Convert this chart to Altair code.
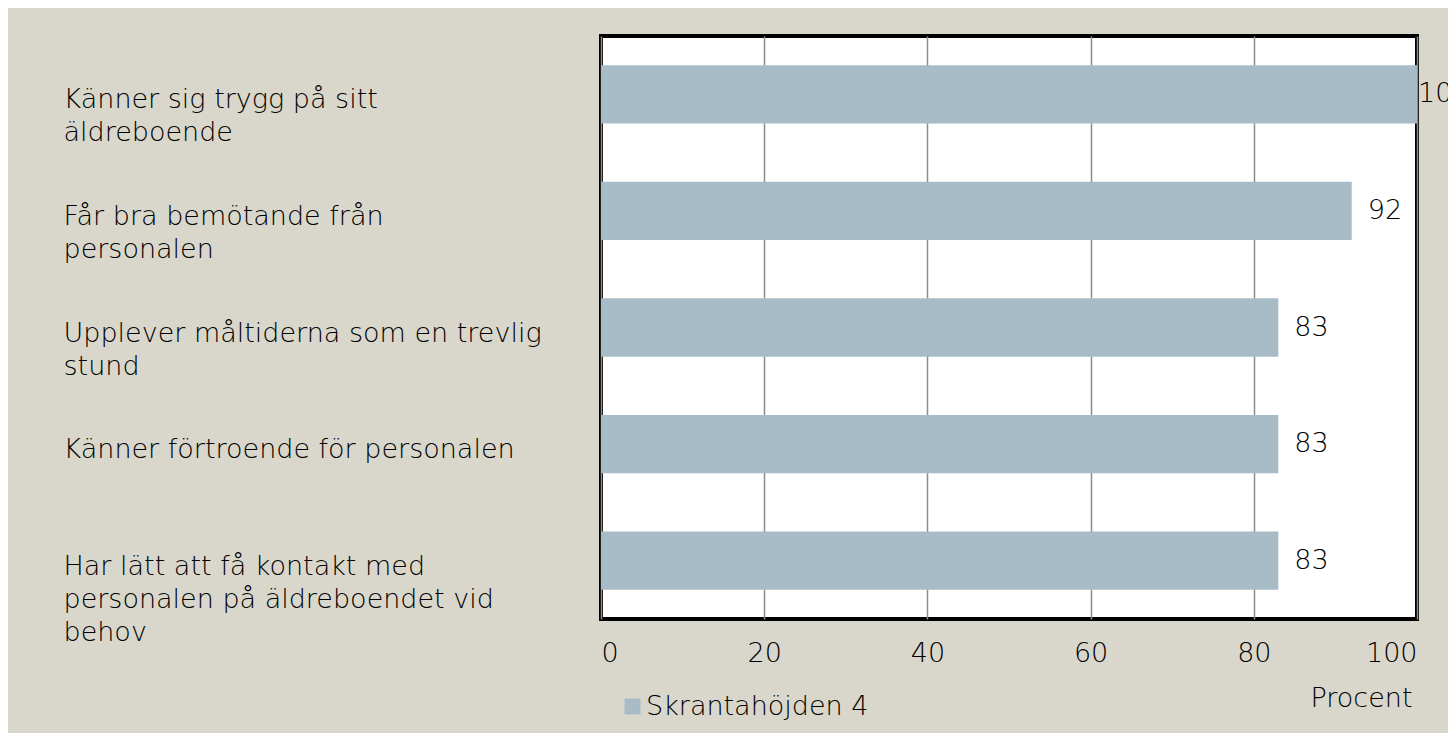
import altair as alt
import pandas as pd

categories = [
    "Känner sig trygg på sitt|äldreboende",
    "Får bra bemötande från|personalen",
    "Upplever måltiderna som en trevlig|stund",
    "Känner förtroende för personalen",
    "Har lätt att få kontakt med|personalen på äldreboendet vid|behov",
]
values = [100, 92, 83, 83, 83]
series = "Skrantahöjden 4"
x_ticks = [0, 20, 40, 60, 80, 100]

df = pd.DataFrame({"kategori": categories, "procent": values, "serie": series})

FONT = "DejaVu Sans"
FS = 27
FW = 300
BG = "#D9D7CB"
BAR = "#A7BCC6"
TXT = "#000000"

y_enc = alt.Y(
    "kategori:N",
    sort=categories,
    scale=alt.Scale(paddingInner=0.5, paddingOuter=0.25),
    axis=alt.Axis(
        title=None, domain=False, ticks=False, tickSize=0, grid=False,
        labelAlign="left", labelBaseline="top", labelPadding=538,
        labelOffset=-7, labelLineHeight=33, labelLimit=600,
        labelFontSize=FS, labelFont=FONT, labelFontWeight=FW, labelColor=TXT,
        labelExpr="split(datum.label, '|')",
    ),
)
x_enc = alt.X(
    "procent:Q",
    scale=alt.Scale(domain=[0, 100], nice=False),
    axis=alt.Axis(
        values=x_ticks, title="Procent", domain=False, ticks=False, tickSize=0,
        grid=True, gridColor="#8c8c8c", gridWidth=1.5,
        labelFontSize=FS, labelFont=FONT, labelFontWeight=FW, labelColor=TXT,
        labelPadding=21,
        titleFontSize=FS, titleFont=FONT, titleColor=TXT, titleFontWeight=FW,
        titleX=811, titleY=79, titleAlign="right", titleBaseline="middle",
    ),
)

bars = alt.Chart(df).mark_bar(opacity=1).encode(
    x=x_enc,
    y=y_enc,
    color=alt.Color(
        "serie:N",
        scale=alt.Scale(range=[BAR]),
        legend=alt.Legend(
            title=None, orient="none", legendX=18, legendY=657,
            symbolType="square", symbolSize=256, symbolStrokeWidth=0,
            labelFontSize=FS, labelFont=FONT, labelFontWeight=FW, labelColor=TXT,
            labelOffset=0, labelLimit=500,
        ),
    ),
)

labels_low = alt.Chart(df).transform_filter("datum.procent < 100").mark_text(
    align="left", baseline="middle", dx=16, fontSize=FS, font=FONT,
    fontWeight=FW, color=TXT
).encode(x="procent:Q", y=alt.Y("kategori:N", sort=categories), text="procent:Q")

labels_full = alt.Chart(df).transform_filter("datum.procent >= 100").mark_text(
    align="left", baseline="middle", dx=1, fontSize=FS, font=FONT,
    fontWeight=FW, color=TXT
).encode(x="procent:Q", y=alt.Y("kategori:N", sort=categories), text="procent:Q")

chart = (
    alt.layer(bars, labels_low, labels_full)
    .properties(
        width=816, height=583,
        background=BG,
        autosize=alt.AutoSizeParams(type="none"),
        padding={"left": 593, "top": 28, "right": 31, "bottom": 114},
    )
    .configure_view(stroke="black", strokeWidth=4, fill="white")
)

chart.save("out.html", embed_options={"renderer": "svg", "actions": False})
